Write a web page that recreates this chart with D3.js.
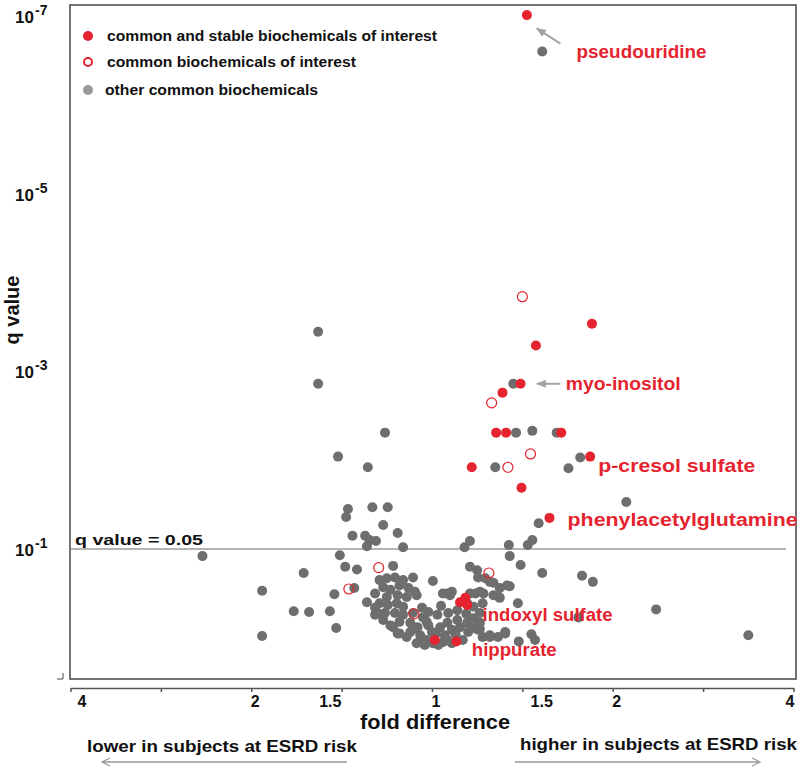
<!DOCTYPE html>
<html>
<head>
<meta charset="utf-8">
<script src="https://cdn.jsdelivr.net/npm/d3@7"></script>
<style>
  body { margin: 0; background: #fff; }
  svg { display: block; }
  text { font-family: "Liberation Sans", Arial, sans-serif; font-weight: bold; }
</style>
</head>
<body>
<div class="canva"></div>
<script>
// each point: [log2 fold difference (signed, + = higher in ESRD risk), log10 q value]
const stablePoints = [
  [0.525, -7.01], [0.885, -3.535], [0.575, -3.29], [0.49, -2.86], [0.39, -2.76],
  [0.355, -2.31], [0.41, -2.31], [0.715, -2.31], [0.22, -1.92], [0.875, -2.04],
  [0.495, -1.69], [0.65, -1.35], [0.155, -0.40], [0.185, -0.45], [0.195, -0.37],
  [0.015, 0.025], [0.135, 0.04]
];
const interestPoints = [
  [0.50, -3.84], [0.33, -2.645], [0.545, -2.07], [0.42, -1.92],
  [-0.295, -0.79], [-0.46, -0.55], [-0.10, -0.27], [0.315, -0.73]
];
const otherPoints = [
  [0.61, -6.60], [-0.63, -3.445], [-0.63, -2.86], [0.45, -2.86], [-0.26, -2.31],
  [0.465, -2.31], [0.555, -2.33], [0.69, -2.31], [-0.52, -2.04], [-0.355, -1.92],
  [0.35, -1.92], [0.755, -1.91], [0.82, -2.03], [1.075, -1.53], [0.59, -1.29],
  [-0.465, -1.45], [-0.475, -1.36], [-0.33, -1.47], [-0.245, -1.47], [-0.27, -1.27],
  [-0.19, -1.18], [-0.44, -1.15], [-0.37, -1.15], [-0.345, -1.10], [-0.31, -1.09],
  [-0.36, -1.03], [-0.16, -1.02], [0.18, -1.02], [0.21, -1.09], [0.425, -1.045],
  [0.555, -1.10], [0.53, -1.045], [-1.27, -0.92], [-0.51, -0.93], [0.43, -0.92],
  [0.49, -0.82], [0.61, -0.73], [0.83, -0.70], [0.89, -0.63], [0.43, -0.58],
  [0.32, -0.63], [0.37, -0.46], [0.475, -0.39], [1.24, -0.32], [0.81, -0.23],
  [0.265, -0.10], [0.32, -0.01], [0.365, -0.01], [0.405, -0.05], [0.48, 0.04],
  [0.55, -0.04], [0.57, 0.025], [1.75, -0.03], [0.285, -0.50], [0.265, -0.17],
  [-0.71, -0.73], [-0.48, -0.80], [-0.415, -0.77], [-0.215, -0.81], [-0.94, -0.53],
  [-0.54, -0.49], [-0.43, -0.56], [-0.765, -0.30], [-0.68, -0.29], [-0.565, -0.30],
  [-0.94, -0.02], [-0.53, -0.11], [0.005, -0.64], [-0.29, -0.65], [-0.25, -0.67],
  [-0.205, -0.68], [-0.16, -0.65], [-0.105, -0.68], [-0.27, -0.57], [-0.23, -0.54],
  [-0.18, -0.59], [-0.13, -0.56], [-0.095, -0.52], [-0.315, -0.50], [-0.25, -0.46],
  [-0.19, -0.48], [-0.14, -0.46], [-0.085, -0.48], [-0.29, -0.39], [-0.245, -0.37],
  [-0.195, -0.39], [-0.16, -0.35], [-0.315, -0.34], [-0.315, -0.26], [-0.26, -0.28],
  [-0.205, -0.28], [-0.16, -0.26], [-0.105, -0.28], [-0.23, -0.14], [-0.18, -0.18],
  [-0.19, -0.05], [-0.12, -0.17], [-0.12, -0.065], [-0.08, -0.12], [-0.05, -0.23],
  [-0.02, -0.29], [0.03, -0.26], [-0.065, -0.03], [-0.03, 0.025], [0, -0.065],
  [0.045, -0.12], [0.085, -0.17], [0.07, -0.03], [0.06, 0.05], [0.11, -0.09],
  [0.14, -0.20], [0.155, -0.12], [0.195, -0.17], [0.20, -0.065], [0.17, 0.025],
  [0.23, -0.22], [0.23, -0.11], [0.265, -0.28], [0.255, -0.09], [0.09, -0.28],
  [0.14, -0.31], [0.085, -0.50], [0.11, -0.52], [0.195, -0.39], [0.23, -0.35],
  [0.28, -0.39], [0.24, -0.50], [0.265, -0.52], [0.34, -0.48], [0.375, -0.45],
  [0.21, -0.80], [0.25, -0.76], [0.255, -0.68], [0.295, -0.67], [0.34, -0.62],
  [0.375, -0.56], [0.415, -0.59], [0.28, -0.01], [0.32, -0.03], [0.405, -0.065],
  [-0.055, -0.34], [-0.03, -0.18], [-0.085, 0.06], [-0.04, 0.08], [0.005, 0.06],
  [0.035, 0.08], [0.11, 0.06], [0.085, 0.025], [-0.30, -0.28], [-0.215, -0.12],
  [-0.18, -0.05], [-0.14, -0.01], [-0.05, 0.06], [0.06, -0.50], [0.10, -0.48],
  [0.21, -0.50], [-0.10, -0.10], [-0.02, -0.14], [0.02, -0.04], [0.13, -0.04],
  [-0.27, -0.20], [0.19, -0.27], [-0.36, -0.40], [0.05, -0.36]
];

const foldTickValues = [-2, -1.5, -1, -0.5, 0, 0.5, 1, 1.5, 2];
const foldLabels = ["4", "2", "1.5", "1", "1.5", "2", "4"];
const foldLabelSigns = [-1, -1, -1, 0, 1, 1, 1];
const qTickExps = [-7, -5, -3, -1];
const qLineLog = -1;
const legendLabels = ["common and stable biochemicals of interest", "common biochemicals of interest", "other common biochemicals"];
const annotationNames = ["pseudouridine", "myo-inositol", "p-cresol sulfate", "phenylacetylglutamine", "indoxyl sulfate", "hippurate"];
const annotationAt = [[0.80, -6.60], [0.74, -2.86], [0.92, -1.93], [0.75, -1.33], [0.28, -0.26], [0.22, 0.14]];

const red = "#e5242f";
const gray = "#6e6e6e";

const width = 800, height = 768;
const svg = d3.select(".canva").append("svg")
  .attr("width", width)
  .attr("height", height);

const x = d3.scaleLinear().domain([-2, 2]).range([70.5, 793.5]);
const y = d3.scaleLinear().domain([-7, -1]).range([16, 549]);

// plot frame
svg.append("rect")
  .attr("x", 70).attr("y", 5).attr("width", 726).attr("height", 674)
  .attr("fill", "none").attr("stroke", "#444").attr("stroke-width", 1.5);

svg.append("path").attr("d", "M57,679H63V673").attr("fill", "none").attr("stroke", "#444");

// threshold line
svg.append("line")
  .attr("x1", 70).attr("x2", 786)
  .attr("y1", y(qLineLog)).attr("y2", y(qLineLog))
  .attr("stroke", "#6a6a6a").attr("stroke-width", 1.2);
svg.append("text")
  .attr("x", 75).attr("y", y(qLineLog) - 4)
  .attr("font-size", 15).attr("textLength", 128).attr("lengthAdjust", "spacingAndGlyphs")
  .attr("fill", "#111").text("q value = 0.05");

// x axis
const xAxis = svg.append("g")
  .attr("transform", "translate(0,688)")
  .call(d3.axisBottom(x).tickValues(foldTickValues).tickSize(4).tickSizeOuter(0).tickFormat(""));
xAxis.selectAll("path, line").attr("stroke", "#555").attr("stroke-width", 1.5);

const foldPos = foldLabels.map((l, i) => foldLabelSigns[i] * Math.log2(+l));
svg.append("g").selectAll("text")
  .data(foldLabels)
  .join("text")
  .attr("x", (d, i) => i === 0 ? x(foldPos[i]) + 7 : i === foldLabels.length - 1 ? x(foldPos[i]) + 1 : x(foldPos[i]) + 4)
  .attr("y", 707)
  .attr("text-anchor", (d, i) => i === 0 ? "start" : i === foldLabels.length - 1 ? "end" : "middle")
  .attr("font-size", 16)
  .attr("font-family", "'Liberation Sans Narrow', 'Liberation Sans', Arial, sans-serif")
  .attr("fill", "#111")
  .text(d => d);

svg.append("text")
  .attr("x", 435).attr("y", 729).attr("text-anchor", "middle")
  .attr("font-size", 21).attr("textLength", 150).attr("lengthAdjust", "spacingAndGlyphs")
  .attr("font-family", "'Liberation Sans Narrow', 'Liberation Sans', Arial, sans-serif")
  .attr("fill", "#111").text("fold difference");

svg.append("text")
  .attr("x", 87).attr("y", 752)
  .attr("font-size", 17).attr("textLength", 270).attr("lengthAdjust", "spacingAndGlyphs")
  .attr("font-family", "'Liberation Sans Narrow', 'Liberation Sans', Arial, sans-serif")
  .attr("fill", "#111").text("lower in subjects at ESRD risk");
svg.append("text")
  .attr("x", 520).attr("y", 750)
  .attr("font-size", 17).attr("textLength", 277).attr("lengthAdjust", "spacingAndGlyphs")
  .attr("font-family", "'Liberation Sans Narrow', 'Liberation Sans', Arial, sans-serif")
  .attr("fill", "#111").text("higher in subjects at ESRD risk");

// direction arrows
const defs = svg.append("defs");
defs.append("marker")
  .attr("id", "open").attr("viewBox", "0 0 10 10").attr("refX", 9).attr("refY", 5)
  .attr("markerWidth", 10).attr("markerHeight", 10).attr("orient", "auto-start-reverse")
  .attr("markerUnits", "userSpaceOnUse")
  .append("path").attr("d", "M1,1L9,5L1,9").attr("fill", "none").attr("stroke", "#999").attr("stroke-width", 1.2);
defs.append("marker")
  .attr("id", "solid").attr("viewBox", "0 0 10 10").attr("refX", 9).attr("refY", 5)
  .attr("markerWidth", 10).attr("markerHeight", 10).attr("orient", "auto")
  .attr("markerUnits", "userSpaceOnUse")
  .append("path").attr("d", "M0,1L10,5L0,9Z").attr("fill", "#a3a3a3");

svg.append("line").attr("x1", 347).attr("x2", 102).attr("y1", 762).attr("y2", 762)
  .attr("stroke", "#999").attr("stroke-width", 1.3).attr("marker-end", "url(#open)");
svg.append("line").attr("x1", 515).attr("x2", 760).attr("y1", 762).attr("y2", 762)
  .attr("stroke", "#999").attr("stroke-width", 1.3).attr("marker-end", "url(#open)");

// y axis labels
const yLab = svg.append("g").selectAll("g").data(qTickExps).join("g")
  .attr("transform", d => `translate(0,${y(d) + 7})`);
yLab.append("text").attr("x", 34).attr("text-anchor", "end")
  .attr("font-family", "Lato, 'Open Sans', sans-serif").attr("font-size", 17).attr("fill", "#111")
  .text("10");
yLab.append("text").attr("x", 35).attr("y", -8)
  .attr("font-family", "Lato, 'Open Sans', sans-serif").attr("font-size", 14).attr("fill", "#111")
  .text(d => "-" + Math.abs(d));

svg.append("text")
  .attr("transform", "translate(19,310) rotate(-90)")
  .attr("text-anchor", "middle")
  .attr("font-family", "Lato, 'Open Sans', sans-serif").attr("font-size", 20).attr("fill", "#111")
  .text("q value");

// points
const plot = svg.append("g");
plot.selectAll(".other").data(otherPoints).join("circle")
  .attr("class", "other")
  .attr("cx", d => x(d[0])).attr("cy", d => y(d[1])).attr("r", 5)
  .attr("fill", gray);
plot.selectAll(".interest").data(interestPoints).join("circle")
  .attr("class", "interest")
  .attr("cx", d => x(d[0])).attr("cy", d => y(d[1])).attr("r", 5)
  .attr("fill", "none").attr("stroke", red).attr("stroke-width", 1.2);
plot.selectAll(".stable").data(stablePoints).join("circle")
  .attr("class", "stable")
  .attr("cx", d => x(d[0])).attr("cy", d => y(d[1])).attr("r", 5)
  .attr("fill", red);

// annotations
const annWidths = [130, 115, 157, 230, 130, 85];
svg.append("g").selectAll("text").data(annotationNames).join("text")
  .attr("x", (d, i) => x(annotationAt[i][0]))
  .attr("y", (d, i) => y(annotationAt[i][1]) + 6)
  .attr("font-size", 18)
  .attr("textLength", (d, i) => annWidths[i]).attr("lengthAdjust", "spacingAndGlyphs")
  .attr("fill", red)
  .text(d => d);

const pointerArrows = [
  [[0.71, -6.69], [0.58, -6.86]],
  [[0.71, -2.86], [0.58, -2.86]]
];
svg.append("g").selectAll("line").data(pointerArrows).join("line")
  .attr("x1", d => x(d[0][0])).attr("y1", d => y(d[0][1]))
  .attr("x2", d => x(d[1][0])).attr("y2", d => y(d[1][1]))
  .attr("stroke", "#a3a3a3").attr("stroke-width", 2)
  .attr("marker-end", "url(#solid)");

// legend
const legend = svg.append("g").selectAll("g").data(legendLabels).join("g")
  .attr("transform", (d, i) => `translate(88,${[36, 62, 90][i]})`);
legend.each(function (d, i) {
  const g = d3.select(this);
  if (i === 0) g.append("circle").attr("r", 5).attr("fill", red);
  if (i === 1) g.append("circle").attr("r", 4).attr("fill", "none").attr("stroke", red).attr("stroke-width", 2);
  if (i === 2) g.append("circle").attr("r", 5).attr("fill", "#9a9a9a");
});
const legendWidths = [330, 249, 213];
legend.append("text")
  .attr("x", (d, i) => i === 2 ? 17 : 19).attr("y", 5)
  .attr("font-size", 14)
  .attr("textLength", (d, i) => legendWidths[i]).attr("lengthAdjust", "spacingAndGlyphs")
  .attr("fill", "#111")
  .text(d => d);
</script>
</body>
</html>
